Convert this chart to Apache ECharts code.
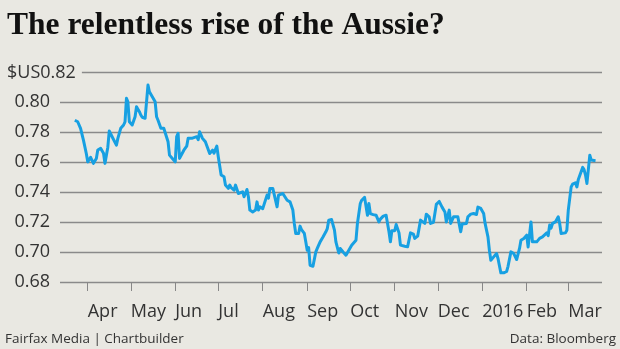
<!DOCTYPE html>
<html>
<head>
<meta charset="utf-8">
<script src="https://cdn.jsdelivr.net/npm/echarts@6/dist/echarts.min.js"></script>
<style>
html,body{margin:0;padding:0;background:#e9e8e2;}
#chart{width:620px;height:349px;}
</style>
</head>
<body>
<div id="chart"></div>
<script>
const titleText = 'The relentless rise of the Aussie?';
const sourceLeft = 'Fairfax Media | Chartbuilder';
const sourceRight = 'Data: Bloomberg';
const yTopLabel = '$US0.82';
const monthLabels = ['2016','Feb','Mar','Apr','May','Jun','Jul','Aug','Sep','Oct','Nov','Dec'];

const dates = [
'2015-03-23','2015-03-25','2015-03-27','2015-03-29','2015-03-31','2015-04-01','2015-04-03','2015-04-05','2015-04-07','2015-04-08',
'2015-04-10','2015-04-12','2015-04-13','2015-04-15','2015-04-16','2015-04-18','2015-04-21','2015-04-22','2015-04-24','2015-04-26',
'2015-04-27','2015-04-28','2015-04-29','2015-04-30','2015-05-02','2015-05-04','2015-05-05','2015-05-07','2015-05-08','2015-05-09',
'2015-05-11','2015-05-13','2015-05-14','2015-05-16','2015-05-18','2015-05-19','2015-05-20','2015-05-22','2015-05-24','2015-05-25',
'2015-05-27','2015-05-28','2015-05-30','2015-06-01','2015-06-02','2015-06-03','2015-06-04','2015-06-07','2015-06-09','2015-06-10',
'2015-06-11','2015-06-13','2015-06-16','2015-06-17','2015-06-18','2015-06-20','2015-06-22','2015-06-23','2015-06-25','2015-06-27',
'2015-06-28','2015-06-30','2015-07-01','2015-07-03','2015-07-05','2015-07-06','2015-07-08','2015-07-09','2015-07-10','2015-07-12',
'2015-07-13','2015-07-15','2015-07-16','2015-07-18','2015-07-19','2015-07-21','2015-07-22','2015-07-23','2015-07-25','2015-07-27',
'2015-07-28','2015-07-29','2015-07-30','2015-08-01','2015-08-02','2015-08-04','2015-08-05','2015-08-06','2015-08-08','2015-08-09',
'2015-08-11','2015-08-12','2015-08-13','2015-08-15','2015-08-16','2015-08-18','2015-08-20','2015-08-22','2015-08-23','2015-08-24',
'2015-08-26','2015-08-27','2015-08-28','2015-08-30','2015-08-31','2015-09-01','2015-09-02','2015-09-03','2015-09-05','2015-09-06',
'2015-09-07','2015-09-08','2015-09-10','2015-09-12','2015-09-14','2015-09-15','2015-09-16','2015-09-18','2015-09-20','2015-09-21',
'2015-09-23','2015-09-24','2015-09-26','2015-09-28','2015-09-30','2015-10-02','2015-10-05','2015-10-06','2015-10-08','2015-10-09',
'2015-10-11','2015-10-13','2015-10-14','2015-10-15','2015-10-17','2015-10-19','2015-10-21','2015-10-22','2015-10-24','2015-10-26',
'2015-10-28','2015-10-29','2015-10-30','2015-11-01','2015-11-02','2015-11-04','2015-11-05','2015-11-08','2015-11-10','2015-11-12',
'2015-11-14','2015-11-15','2015-11-17','2015-11-19','2015-11-20','2015-11-22','2015-11-23','2015-11-25','2015-11-26','2015-11-28',
'2015-11-30','2015-12-02','2015-12-03','2015-12-04','2015-12-06','2015-12-07','2015-12-09','2015-12-10','2015-12-12','2015-12-13',
'2015-12-15','2015-12-17','2015-12-18','2015-12-21','2015-12-22','2015-12-24','2015-12-26','2015-12-28','2015-12-29','2015-12-31',
'2016-01-02','2016-01-03','2016-01-05','2016-01-06','2016-01-07','2016-01-09','2016-01-11','2016-01-12','2016-01-13','2016-01-14',
'2016-01-16','2016-01-18','2016-01-19','2016-01-20','2016-01-21','2016-01-23','2016-01-25','2016-01-27','2016-01-28','2016-01-30',
'2016-02-01','2016-02-02','2016-02-04','2016-02-05','2016-02-06','2016-02-08','2016-02-10','2016-02-12','2016-02-15','2016-02-16',
'2016-02-17','2016-02-18','2016-02-19','2016-02-21','2016-02-23','2016-02-24','2016-02-25','2016-02-28','2016-02-29','2016-03-01',
'2016-03-03','2016-03-04','2016-03-06','2016-03-07','2016-03-08','2016-03-09','2016-03-11','2016-03-12','2016-03-13','2016-03-14',
'2016-03-16','2016-03-17','2016-03-20'
];

const rates = [
0.788,0.787,0.7826,0.7747,0.7658,0.7602,0.7632,0.7592,0.7625,0.7681,
0.7692,0.766,0.7592,0.770,0.7808,0.777,0.7714,0.7759,0.7826,0.7848,
0.787,0.8026,0.8003,0.787,0.7848,0.7903,0.797,0.7937,0.7915,0.790,
0.7893,0.8115,0.807,0.8037,0.8003,0.7903,0.788,0.7826,0.7826,0.782,
0.7736,0.7647,0.7625,0.7602,0.777,0.7792,0.7625,0.768,0.7707,0.776,
0.775,0.776,0.777,0.775,0.7803,0.7759,0.7736,0.773,0.7658,0.768,
0.766,0.7707,0.7636,0.7514,0.7502,0.7447,0.7425,0.7447,0.743,0.7413,
0.7447,0.7391,0.738,0.7402,0.7369,0.7418,0.7369,0.728,0.7268,0.728,
0.7335,0.728,0.7302,0.729,0.728,0.738,0.736,0.7425,0.7425,0.7413,
0.7302,0.738,0.738,0.7391,0.738,0.7346,0.7335,0.728,0.7191,0.7124,
0.7124,0.7173,0.715,0.7124,0.7068,0.7012,0.703,0.6912,0.6905,0.6912,
0.7001,0.7024,0.7068,0.710,0.7135,0.7157,0.7213,0.7217,0.7146,0.7068,
0.6994,0.7024,0.700,0.6979,0.7012,0.7046,0.7079,0.7191,0.7324,0.7346,
0.7365,0.7246,0.7324,0.7257,0.725,0.7246,0.7201,0.722,0.724,0.7246,
0.7135,0.7068,0.7142,0.7142,0.7184,0.7128,0.7046,0.7039,0.7035,0.7128,
0.712,0.7091,0.7106,0.7213,0.7216,0.7191,0.7253,0.7235,0.7191,0.7198,
0.7318,0.7338,0.7338,0.730,0.7268,0.7201,0.728,0.7191,0.7235,0.7235,
0.7235,0.7135,0.7187,0.7191,0.7235,0.7253,0.7257,0.7251,0.730,0.7291,
0.7257,0.7191,0.7101,0.7012,0.6945,0.6968,0.699,0.6957,0.697,0.6861,
0.6861,0.687,0.6905,0.691,0.7001,0.699,0.695,0.7024,0.7079,0.7091,
0.7113,0.7034,0.7201,0.7068,0.707,0.7068,0.7091,0.7101,0.7128,0.711,
0.718,0.716,0.7191,0.7201,0.7235,0.7191,0.7124,0.7128,0.7146,0.728,
0.7435,0.7453,0.7462,0.7435,0.7485,0.7475,0.7565,0.755,0.7514,0.7458,
0.7647,0.7614,0.761
];

const xMin = '2015-03-12 16:00';
const xMax = '2016-03-24 12:00';
const yMin = 0.68, yMax = 0.82, yStep = 0.02;

const chart = echarts.init(document.getElementById('chart'), null, {renderer: 'canvas'});
const seriesData = dates.map((d, i) => [d, rates[i]]);
const labelFont = "'Open Sans', 'Noto Sans', sans-serif";

chart.setOption({
  backgroundColor: '#e9e8e2',
  animation: false,
  title: [
    { text: titleText, left: 7, top: 10, padding: 0,
      textStyle: { fontFamily: "'Liberation Serif', serif", fontWeight: 'bold', fontSize: 31.5, color: '#111', lineHeight: 32 } },
    { text: sourceLeft, left: 5, top: 331, padding: 0,
      textStyle: { fontFamily: labelFont, fontWeight: 'normal', fontSize: 13.5, color: '#333', lineHeight: 16 } },
    { text: sourceRight, right: 4, top: 331, padding: 0,
      textStyle: { fontFamily: labelFont, fontWeight: 'normal', fontSize: 13.5, color: '#333', lineHeight: 16 } }
  ],
  grid: { left: 60, right: 18, top: 72.3, bottom: 67, containLabel: false },
  xAxis: {
    type: 'time',
    min: xMin, max: xMax,
    splitNumber: 13,
    minInterval: 28 * 86400000,
    maxInterval: 31 * 86400000,
    axisLine: { show: false },
    axisTick: { show: true, length: 9, lineStyle: { color: '#888', width: 1 } },
    splitLine: { show: false },
    axisLabel: {
      align: 'left', margin: 21,
      fontFamily: labelFont, fontSize: 18, color: '#333',
      showMinLabel: false, showMaxLabel: false,
      formatter: function (v) { return monthLabels[new Date(v).getMonth()]; }
    }
  },
  yAxis: {
    type: 'value', min: yMin, max: yMax, interval: yStep,
    axisLine: { show: false }, axisTick: { show: false },
    splitLine: { show: true, lineStyle: { color: '#8a8a8a', width: 1.4 } },
    axisLabel: {
      margin: 10, fontFamily: labelFont, fontSize: 18, color: '#333',
      formatter: function (v) { return Math.abs(v - yMax) < 1e-9 ? '' : v.toFixed(2); }
    }
  },
  graphic: [
    { type: 'text', left: 7, top: 64, z: 100,
      style: { text: yTopLabel, font: "18px 'Open Sans', sans-serif", fill: '#333',
               backgroundColor: '#e9e8e2', padding: [0, 6, 0, 0] } }
  ],
  series: [{
    type: 'line', data: seriesData, showSymbol: false, symbol: 'none',
    lineStyle: { color: '#17a0e2', width: 3, join: 'round' },
    z: 5
  }]
});
</script>
</body>
</html>
